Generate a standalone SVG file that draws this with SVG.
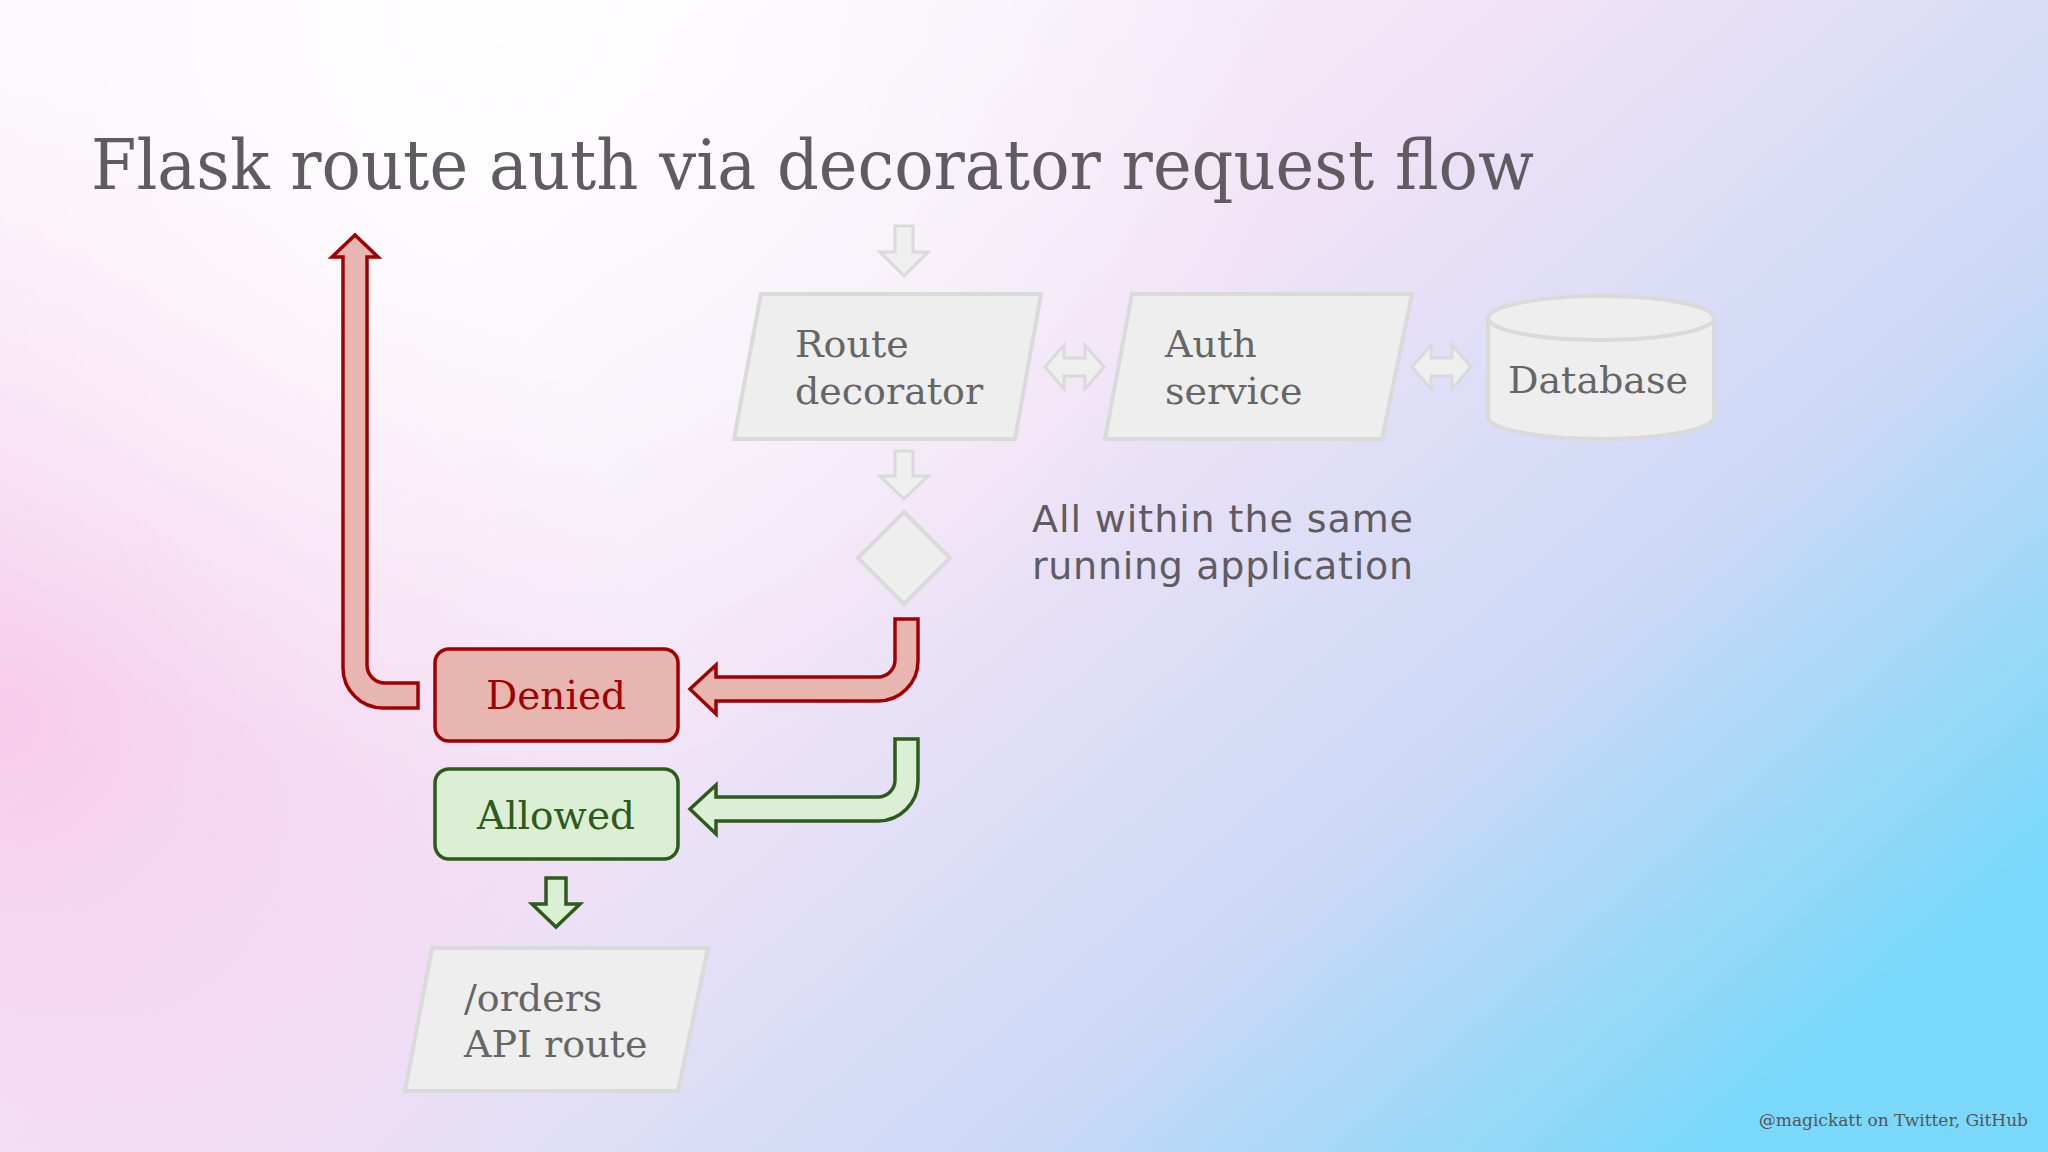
<svg xmlns="http://www.w3.org/2000/svg" width="2048" height="1152" viewBox="0 0 2048 1152">
<defs>
<linearGradient id="bg" x1="700" y1="0" x2="1700" y2="1152" gradientUnits="userSpaceOnUse">
<stop offset="0" stop-color="#faf5fb"/>
<stop offset="0.35" stop-color="#f1e3f6"/>
<stop offset="0.7" stop-color="#ccd9f6"/>
<stop offset="1" stop-color="#7ad8fa"/>
</linearGradient>
<radialGradient id="pink" cx="0" cy="720" r="650" gradientUnits="userSpaceOnUse">
<stop offset="0" stop-color="#f6c8ea" stop-opacity="0.9"/>
<stop offset="1" stop-color="#f6c8ea" stop-opacity="0"/>
</radialGradient>
<radialGradient id="white" cx="500" cy="0" r="800" gradientUnits="userSpaceOnUse">
<stop offset="0" stop-color="#ffffff" stop-opacity="0.9"/>
<stop offset="1" stop-color="#ffffff" stop-opacity="0"/>
</radialGradient>
</defs>
<style>
.serif{font-family:"DejaVu Serif","Liberation Serif",serif}
.g{fill:#eeeeee;stroke:#dadada;stroke-width:4}
.gt{fill:#666666;font-size:38px}
.ga{fill:#efefef;stroke:#dadada;stroke-width:3}
.red{fill:#e8b6b0;stroke:#a00000;stroke-width:3.5}
.grn{fill:#daefd4;stroke:#2e5a1b;stroke-width:3.5}
</style>
<rect width="2048" height="1152" fill="url(#bg)"/>
<rect width="2048" height="1152" fill="url(#pink)"/>
<rect width="2048" height="1152" fill="url(#white)"/>
<text class="serif" x="91" y="189" font-size="70" fill="#5f5b60" textLength="1443" lengthAdjust="spacingAndGlyphs">Flask route auth via decorator request flow</text>

<g id="connectors">
<path class="ga" d="M895,226 H913 V252 H928 L904,276 L880,252 H895 Z"/>
<path class="ga" d="M895,451 H913 V476 H928 L904,499 L880,476 H895 Z"/>
<path class="ga" d="M1045,367 L1064,345 V358 H1085 V345 L1104,367 L1085,389 V376 H1064 V389 Z"/>
<path class="ga" d="M1412,367 L1431,345 V358 H1452 V345 L1471,367 L1452,389 V376 H1431 V389 Z"/>
<path class="red" d="M895,619 H918 V661 A40,40 0 0 1 878,701 H716 V714 L690,689 L716,665 V677 H878 A17,17 0 0 0 895,660 Z"/>
<path class="grn" d="M895,739 H918 V781 A40,40 0 0 1 878,821 H716 V834 L690,809 L716,785 V797 H878 A17,17 0 0 0 895,780 Z"/>
<path class="red" d="M418,683 H385 A18,18 0 0 1 367,665 V257 H378 L355,235 L332,257 H343 V668 A40,40 0 0 0 383,708 H418 Z"/>
<path class="grn" d="M546,878 H566 V904 H580 L556,927 L532,904 H546 Z"/>
</g>

<g id="route-decorator">
<polygon class="g" points="761,294 1041,294 1015,439 734,439"/>
<text class="serif gt" x="795" y="357">Route</text>
<text class="serif gt" x="795" y="404">decorator</text>
</g>
<g id="auth-service">
<polygon class="g" points="1132,294 1412,294 1382,439 1105,439"/>
<text class="serif gt" x="1165" y="357">Auth</text>
<text class="serif gt" x="1165" y="404">service</text>
</g>
<g id="database">
<path class="g" d="M1488,318 V417 A113,22 0 0 0 1714,417 V318 A113,22 0 0 0 1488,318 Z"/>
<path fill="none" stroke="#dadada" stroke-width="4" d="M1488,318 A113,22 0 0 0 1714,318"/>
<text class="serif gt" x="1508" y="393">Database</text>
</g>
<g id="decision">
<polygon class="g" points="904,512 950,558 904,604 858,558"/>
</g>
<g id="note">
<text x="1032" y="532" font-family="'DejaVu Sans','Open Sans',sans-serif" font-size="38" fill="#5f5b60" textLength="381">All within the same</text>
<text x="1032" y="579" font-family="'DejaVu Sans','Open Sans',sans-serif" font-size="38" fill="#5f5b60" textLength="381">running application</text>
</g>
<g id="denied">
<rect class="red" x="435" y="649" width="243" height="92" rx="14"/>
<text class="serif" x="556" y="709" font-size="39" fill="#a00000" text-anchor="middle">Denied</text>
</g>
<g id="allowed">
<rect class="grn" x="435" y="769" width="243" height="90" rx="14"/>
<text class="serif" x="556" y="829" font-size="39" fill="#2e5a1b" text-anchor="middle">Allowed</text>
</g>
<g id="orders">
<polygon class="g" points="432,948 708,948 678,1091 405,1091"/>
<text class="serif gt" x="464" y="1011">/orders</text>
<text class="serif gt" x="464" y="1057">API route</text>
</g>
<text class="serif" x="2028" y="1126" font-size="17" fill="#555" text-anchor="end">@magickatt on Twitter, GitHub</text>
</svg>
